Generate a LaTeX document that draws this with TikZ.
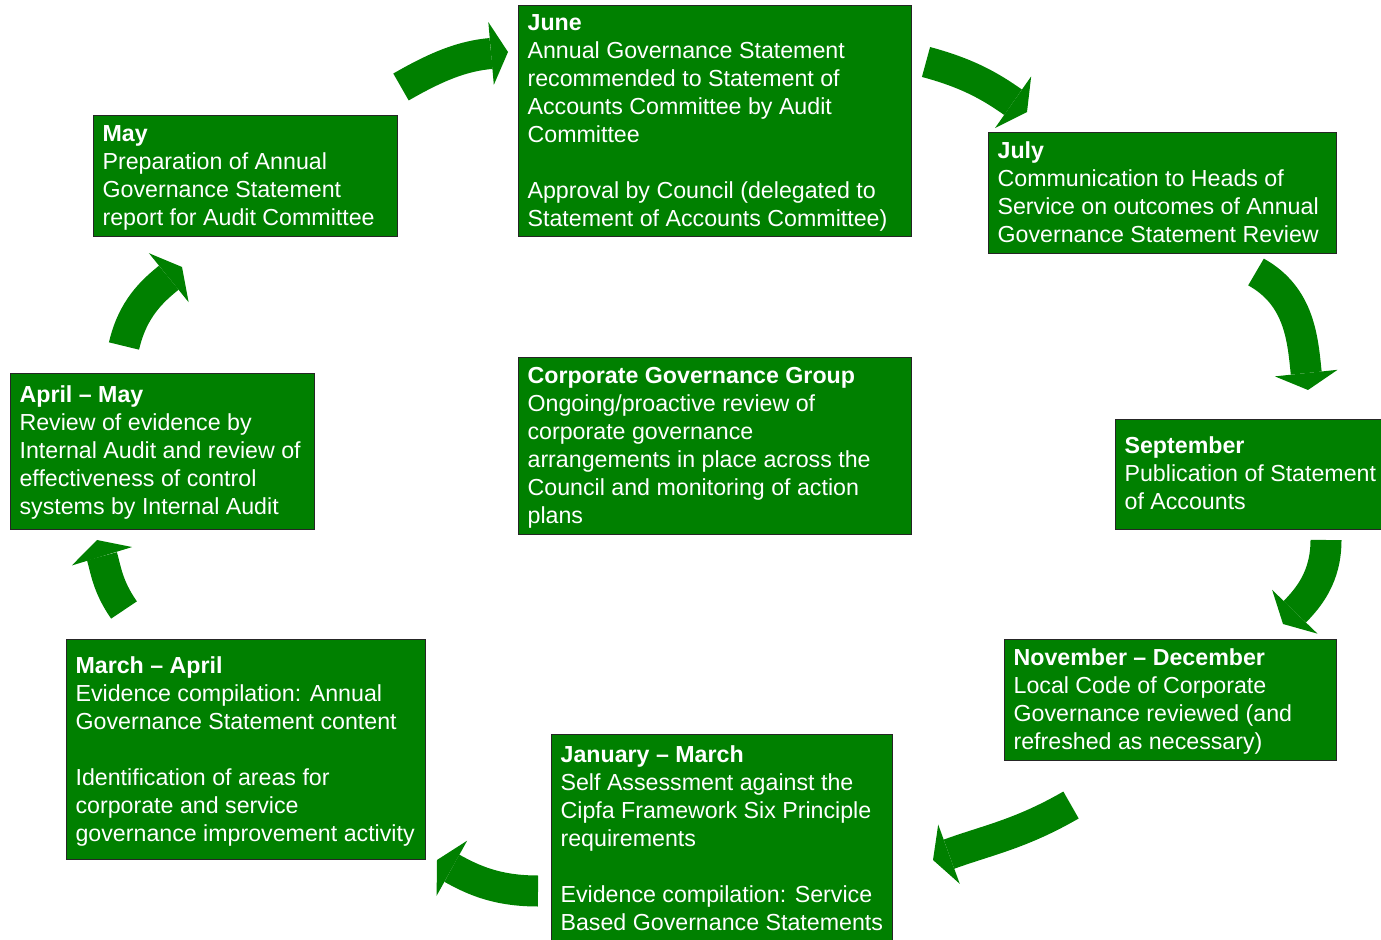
\documentclass[tikz,border=0pt]{standalone}
\usepackage{fontspec}
\setmainfont{Liberation Sans}
\usetikzlibrary{arrows.meta}
\definecolor{stagegreen}{RGB}{0,128,0}
\newcommand{\stagefont}{\fontsize{11.6pt}{14pt}\selectfont}
% width, height, first baseline, text
\newcommand{\stagetext}[4]{\hspace*{4.5pt}\parbox[t][#2][t]{#1}{\raggedright\rule{0pt}{#3}#4}}

\begin{document}
\begin{tikzpicture}[x=0.5pt, y=0.5pt,
	stage/.style={draw=black!85, line width=0.6pt, fill=stagegreen, text=white, anchor=north west, inner sep=0pt, font=\stagefont},
	flow/.style={stagegreen, line width=15.5pt, -{Triangle[length=8.5pt, width=31.5pt, line width=0pt]}}]
	
	\useasboundingbox (0,0) rectangle (1381,-940);
	
	%Drawing the stages
	\node[stage] (may) at (93,-115) {\stagetext{147.5pt}{60.5pt}{13pt}{\textbf{May}\\
		Preparation of Annual\\ Governance Statement\\ report for Audit Committee}};
	\node[stage] (june) at (518,-5) {\stagetext{192pt}{115.5pt}{12.5pt}{\textbf{June}\\
		Annual Governance Statement\\ recommended to Statement of\\ Accounts Committee by Audit\\ Committee\\[14pt]
		Approval by Council (delegated to\\ Statement of Accounts Committee)}};
	\node[stage] (july) at (988,-132) {\stagetext{169.5pt}{60.5pt}{13pt}{\textbf{July}\\
		Communication to Heads of\\ Service on outcomes of Annual\\ Governance Statement Review}};
	\node[stage] (aprmay) at (10,-373) {\stagetext{147.5pt}{78pt}{14.5pt}{\textbf{April -- May}\\
		Review of evidence by\\ Internal Audit and review of\\ effectiveness of control\\ systems by Internal Audit}};
	\node[stage] (group) at (518,-357) {\stagetext{192pt}{88.5pt}{13pt}{\textbf{Corporate Governance Group}\\
		Ongoing/proactive review of\\ corporate governance\\ arrangements in place across the\\ Council and monitoring of action\\ plans}};
	\node[stage] (sept) at (1115,-419) {\stagetext{130.5pt}{55pt}{17pt}{\textbf{September}\\
		Publication of Statement\\ of Accounts}};
	\node[stage] (novdec) at (1004,-639) {\stagetext{161.5pt}{60.5pt}{13pt}{\textbf{November -- December}\\
		Local Code of Corporate\\ Governance reviewed (and\\ refreshed as necessary)}};
	\node[stage] (janmar) at (551,-734) {\stagetext{166pt}{105.5pt}{14pt}{\textbf{January -- March}\\
		Self Assessment against the\\ Cipfa Framework Six Principle\\ requirements\\[14pt]
		Evidence compilation: Service\\ Based Governance Statements}};
	\node[stage] (marapr) at (66,-639) {\stagetext{175pt}{110pt}{17pt}{\textbf{March -- April}\\
		Evidence compilation: Annual\\ Governance Statement content\\[14pt]
		Identification of areas for\\ corporate and service\\ governance improvement activity}};
	
	%Arrow ends
	\coordinate (t1) at (401,-87);   \coordinate (h1) at (508,-52);
	\coordinate (t2) at (926,-62);   \coordinate (h2) at (1027,-112);
	\coordinate (t3) at (1256,-272); \coordinate (h3) at (1308,-390);
	\coordinate (t4) at (1326,-540); \coordinate (h4) at (1283,-624);
	\coordinate (t5) at (1071,-805); \coordinate (h5) at (933,-860);
	\coordinate (t6) at (538,-891);  \coordinate (h6) at (437,-860);
	\coordinate (t7) at (124,-610);  \coordinate (h7) at (97,-540);
	\coordinate (t8) at (124,-346);  \coordinate (h8) at (182,-267);
	
	%Drawing the cycle
	\draw[flow] (t1) to[out=30, in=185] (h1);
	\draw[flow] (t2) to[out=-15, in=145] (h2);
	\draw[flow] (t3) to[out=-29, in=96] (h3);
	\draw[flow] (t4) to[out=-90, in=46] (h4);
	\draw[flow] (t5) to[out=210, in=20] (h5);
	\draw[flow] (t6) to[out=180, in=-29] (h6);
	\draw[flow] (t7) to[out=125, in=-73] (h7);
	\draw[flow] (t8) to[out=77, in=219] (h8);
	
\end{tikzpicture}
\end{document}
